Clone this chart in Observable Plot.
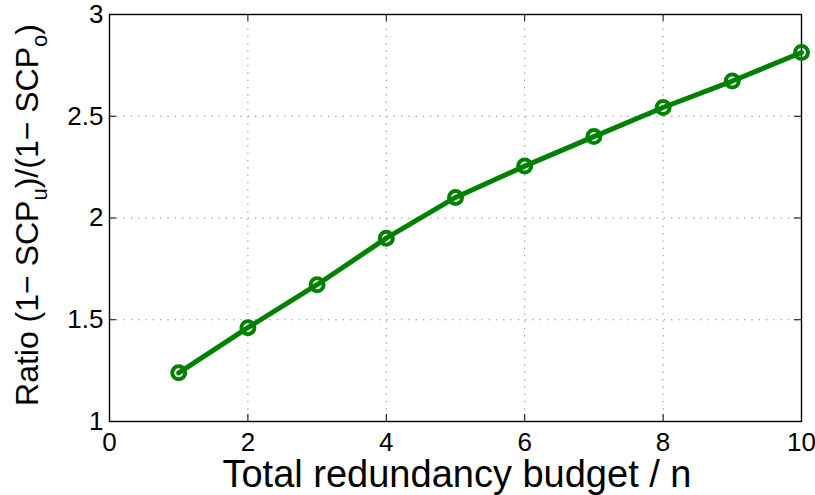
<!DOCTYPE html>
<html><head><meta charset="utf-8">
<script src="https://cdn.jsdelivr.net/npm/d3@7"></script>
<script src="https://cdn.jsdelivr.net/npm/@observablehq/plot@0.6"></script>
<style>body{margin:0;background:#fff;} #chart svg{display:block;}</style>
</head><body><div id="chart"></div>
<script>
const budget = [1, 2, 3, 4, 5, 6, 7, 8, 9, 10];
const ratio = [1.239, 1.461, 1.672, 1.901, 2.101, 2.255, 2.400, 2.543, 2.673, 2.813];
const xTicks = [0, 2, 4, 6, 8, 10];
const yTicks = [1, 1.5, 2, 2.5, 3];
const xGrid = [2, 4, 6, 8];
const yGrid = [1.5, 2, 2.5];
const xLabel = "Total redundancy budget / n";
const yLabelParts = [
  {t: "Ratio (1\u2212 SCP", sub: false},
  {t: "u", sub: true},
  {t: ")/(1\u2212 SCP", sub: false},
  {t: "o", sub: true},
  {t: ")", sub: false}
];

const data = budget.map((b, i) => ({budget: b, ratio: ratio[i]}));

const W = 815, H = 495, mL = 109, mR = 14, mT = 14, mB = 74;
const pw = W - mL - mR, ph = H - mT - mB;
const font = "'Liberation Sans', Arial, Helvetica, sans-serif";
const tickLen = 7;
const green = "#008000";
const tickFont = 26;

const plot = Plot.plot({
  width: W, height: H,
  marginLeft: mL, marginRight: mR, marginTop: mT, marginBottom: mB,
  style: {fontFamily: font, background: "#fff", color: "#000"},
  x: {domain: [0, 10], ticks: xTicks, label: null, axis: null},
  y: {domain: [1, 3], ticks: yTicks, label: null, axis: null},
  marks: [
    Plot.ruleX(xGrid, {x: d => d, stroke: "#888", strokeDasharray: "1.3,6", strokeWidth: 1}),
    Plot.ruleY(yGrid, {y: d => d, stroke: "#888", strokeDasharray: "1.3,6", strokeWidth: 1}),
    Plot.tickX(xTicks, {x: d => d, insetTop: ph - tickLen, stroke: "#000", strokeWidth: 1}),
    Plot.tickX(xTicks, {x: d => d, insetBottom: ph - tickLen, stroke: "#000", strokeWidth: 1}),
    Plot.tickY(yTicks, {y: d => d, insetRight: pw - tickLen, stroke: "#000", strokeWidth: 1}),
    Plot.tickY(yTicks, {y: d => d, insetLeft: pw - tickLen, stroke: "#000", strokeWidth: 1}),
    Plot.frame({stroke: "#000", strokeWidth: 1.4}),
    Plot.text(xTicks, {x: d => d, text: d => String(d), frameAnchor: "bottom", lineAnchor: "top", dy: 11, fontSize: tickFont, fill: "#000"}),
    Plot.text(yTicks, {y: d => d, text: d => String(d), frameAnchor: "left", textAnchor: "end", dx: -6, fontSize: tickFont, fill: "#000"}),
    Plot.line(data, {x: "budget", y: "ratio", stroke: green, strokeWidth: 5}),
    Plot.dot(data, {x: "budget", y: "ratio", r: 6.5, stroke: green, strokeWidth: 4, fill: "none"})
  ]
});

const svg = d3.select(plot);
// force tick label size on every tick text element
svg.selectAll("text").style("font-size", tickFont + "px").style("font-family", font);

svg.append("text")
  .attr("x", (mL + W - mR) / 2 + 2)
  .attr("y", 487)
  .attr("text-anchor", "middle")
  .style("font-size", "38px")
  .style("font-family", font)
  .attr("fill", "#000")
  .text(xLabel);

const yl = svg.append("text")
  .attr("transform", "translate(38," + 215 + ") rotate(-90)")
  .attr("text-anchor", "middle")
  .style("font-size", "32px")
  .style("font-family", font)
  .attr("fill", "#000");
yLabelParts.forEach((p, i) => {
  const prevSub = i > 0 && yLabelParts[i - 1].sub;
  if (p.sub) {
    yl.append("tspan").style("font-size", "22px").attr("dy", 9).text(p.t);
  } else {
    yl.append("tspan").style("font-size", "32px").attr("dy", prevSub ? -9 : 0).text(p.t);
  }
});

document.getElementById("chart").appendChild(plot);
</script>
</body></html>
